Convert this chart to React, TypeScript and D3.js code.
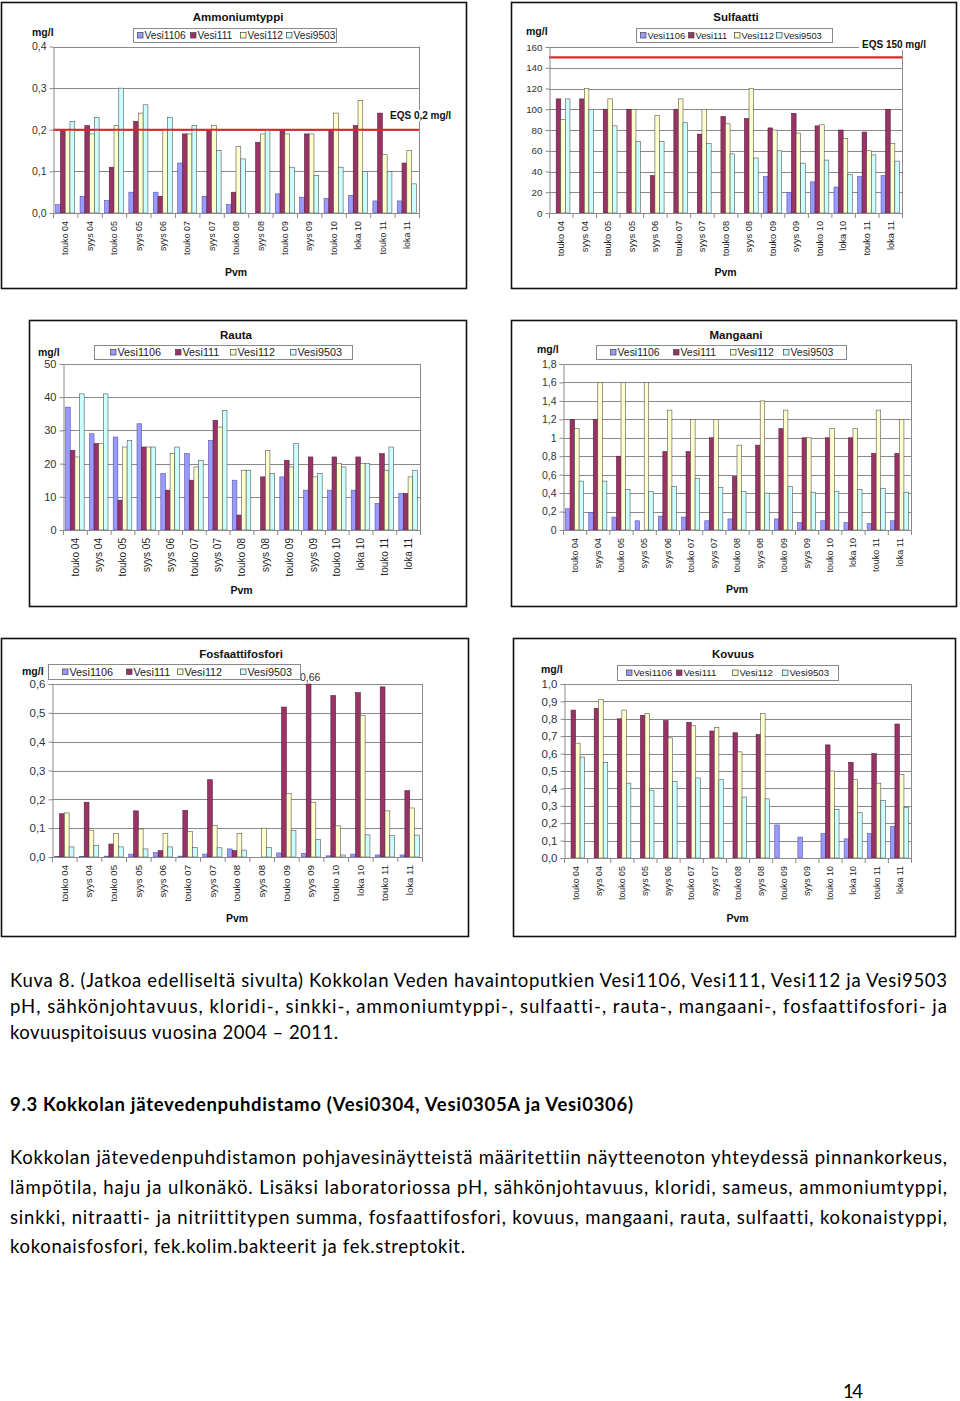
import {useEffect, useRef} from "react";
import * as d3 from "d3";

const dates = ["touko 04", "syys 04", "touko 05", "syys 05", "syys 06", "touko 07", "syys 07", "touko 08",
    "syys 08", "touko 09", "syys 09", "touko 10", "loka 10", "touko 11", "loka 11"];
const wells = ["Vesi1106", "Vesi111", "Vesi112", "Vesi9503"];
const wellColors = ["#9999ff", "#993366", "#ffffcc", "#ccffff"];

// Ammoniumtyppi, mg/l
const ammVesi1106 = [0.02, 0.04, 0.03, 0.05, 0.05, 0.12, 0.04, 0.02, 0, 0.046, 0.038, 0.035, 0.042, 0.029, 0.029];
const ammVesi111 = [0.2, 0.21, 0.11, 0.22, 0.04, 0.19, 0.2, 0.05, 0.17, 0.2, 0.19, 0.2, 0.21, 0.24, 0.12];
const ammVesi112 = [0.2, 0.19, 0.21, 0.24, 0.2, 0.19, 0.21, 0.16, 0.19, 0.19, 0.19, 0.24, 0.27, 0.14, 0.15];
const ammVesi9503 = [0.22, 0.23, 0.3, 0.26, 0.23, 0.21, 0.15, 0.13, 0.2, 0.11, 0.09, 0.11, 0.1, 0.1, 0.07];
const ammTicks = [0, 0.1, 0.2, 0.3, 0.4];
const ammTickLabels = ["0,0", "0,1", "0,2", "0,3", "0,4"];

// Sulfaatti, mg/l
const sulVesi1106 = [0, 0, 0, 0, 0, 0, 0, 0, 0, 35, 20, 30, 25, 35, 36];
const sulVesi111 = [110, 110, 100, 100, 36, 100, 76, 93, 91, 82, 96, 84, 80, 78, 100];
const sulVesi112 = [90, 120, 110, 100, 94, 110, 100, 86, 120, 80, 77, 85, 72, 60, 67];
const sulVesi9503 = [110, 100, 84, 69, 69, 87, 67, 57, 53, 60, 48, 51, 37, 56, 50];
const sulTicks = [0, 20, 40, 60, 80, 100, 120, 140, 160];
const sulTickLabels = ["0", "20", "40", "60", "80", "100", "120", "140", "160"];

// Rauta
const rautaVesi1106 = [37, 29, 28, 32, 17, 23, 27, 15, 0, 16, 12, 12, 12, 8, 11];
const rautaVesi111 = [24, 26, 9, 25, 12, 15, 33, 4.5, 16, 21, 22, 22, 22, 23, 11];
const rautaVesi112 = [22, 26, 25, 25, 23, 19, 31, 18, 24, 19, 16, 20, 20, 18, 16];
const rautaVesi9503 = [41, 41, 27, 25, 25, 21, 36, 18, 17, 26, 17, 19, 20, 25, 18];
const rautaTicks = [0, 10, 20, 30, 40, 50];
const rautaTickLabels = ["0", "10", "20", "30", "40", "50"];

// Mangaani
const mnVesi1106 = [0.23, 0.19, 0.14, 0.1, 0.15, 0.14, 0.1, 0.12, 0, 0.12, 0.08, 0.1, 0.08, 0.07, 0.1];
const mnVesi111 = [1.2, 1.2, 0.8, 0, 0.85, 0.85, 1.0, 0.58, 0.92, 1.1, 1.0, 1.0, 1.0, 0.83, 0.83];
const mnVesi112 = [1.1, 1.6, 1.6, 1.6, 1.3, 1.2, 1.2, 0.92, 1.4, 1.3, 1.0, 1.1, 1.1, 1.3, 1.2];
const mnVesi9503 = [0.53, 0.53, 0.44, 0.42, 0.47, 0.56, 0.46, 0.42, 0.4, 0.47, 0.41, 0.42, 0.44, 0.45, 0.41];
const mnTicks = [0, 0.2, 0.4, 0.6, 0.8, 1, 1.2, 1.4, 1.6, 1.8];
const mnTickLabels = ["0", "0,2", "0,4", "0,6", "0,8", "1", "1,2", "1,4", "1,6", "1,8"];

// Fosfaattifosfori
const poVesi1106 = [0.002, 0.002, 0.003, 0.01, 0.015, 0.003, 0.01, 0.028, 0, 0.014, 0.012, 0.004, 0.01, 0.007, 0.007];
const poVesi111 = [0.15, 0.19, 0.045, 0.16, 0.022, 0.162, 0.268, 0.022, 0, 0.52, 0.66, 0.56, 0.57, 0.59, 0.23];
const poVesi112 = [0.153, 0.093, 0.082, 0.097, 0.082, 0.088, 0.11, 0.082, 0.1, 0.22, 0.19, 0.108, 0.49, 0.16, 0.17];
const poVesi9503 = [0.035, 0.04, 0.035, 0.028, 0.035, 0.033, 0.032, 0.024, 0.033, 0.092, 0.061, 0.007, 0.077, 0.075, 0.076];
const poTicks = [0, 0.1, 0.2, 0.3, 0.4, 0.5, 0.6];
const poTickLabels = ["0,0", "0,1", "0,2", "0,3", "0,4", "0,5", "0,6"];

// Kovuus
const kovVesi1106 = [0, 0, 0, 0, 0, 0, 0, 0, 0, 0.19, 0.12, 0.14, 0.11, 0.14, 0.18];
const kovVesi111 = [0.85, 0.86, 0.8, 0.82, 0.79, 0.78, 0.73, 0.72, 0.71, 0, 0, 0.65, 0.55, 0.6, 0.77];
const kovVesi112 = [0.66, 0.91, 0.85, 0.83, 0.69, 0.76, 0.75, 0.61, 0.83, 0, 0, 0.5, 0.45, 0.43, 0.48];
const kovVesi9503 = [0.58, 0.55, 0.43, 0.39, 0.44, 0.46, 0.45, 0.35, 0.34, 0, 0, 0.28, 0.26, 0.33, 0.29];
const kovTicks = [0, 0.1, 0.2, 0.3, 0.4, 0.5, 0.6, 0.7, 0.8, 0.9, 1.0];
const kovTickLabels = ["0,0", "0,1", "0,2", "0,3", "0,4", "0,5", "0,6", "0,7", "0,8", "0,9", "1,0"];

const captionLines = [
    "Kuva 8. (Jatkoa edelliseltä sivulta) Kokkolan Veden havaintoputkien Vesi1106, Vesi111, Vesi112 ja Vesi9503",
    "pH, sähkönjohtavuus, kloridi-, sinkki-, ammoniumtyppi-, sulfaatti-, rauta-, mangaani-, fosfaattifosfori- ja",
    "kovuuspitoisuus vuosina 2004 – 2011.",
];
const heading = "9.3 Kokkolan jätevedenpuhdistamo (Vesi0304, Vesi0305A ja Vesi0306)";
const paragraphLines = [
    "Kokkolan jätevedenpuhdistamon pohjavesinäytteistä määritettiin näytteenoton yhteydessä pinnankorkeus,",
    "lämpötila, haju ja ulkonäkö. Lisäksi laboratoriossa pH, sähkönjohtavuus, kloridi, sameus, ammoniumtyppi,",
    "sinkki, nitraatti- ja nitriittitypen summa, fosfaattifosfori, kovuus, mangaani, rauta, sulfaatti, kokonaistyppi,",
    "kokonaisfosfori, fek.kolim.bakteerit ja fek.streptokit.",
];

const FONT = "'Liberation Sans', Arial, sans-serif";
const BODY = "Lato, 'Open Sans', sans-serif";

interface ChartDef {
    title: string;
    series: number[][];
    ticks: number[];
    tickLabels: string[];
    frame: [number, number, number, number];
    plot: [number, number, number, number]; // left, top, right, bottom
    legend: [number, number, number, number];
    legendOffsets: number[];
    legendFont: number;
    titleX: number;
    titleY: number;
    mgl: [number, number];
    pvmY: number;
    xFont: number;
    yFont: number;
    eqs?: {value: number, label: string, x: number, y: number};
    overflow?: {label: string, x: number, y: number};
}

const charts: ChartDef[] = [
    {
        title: "Ammoniumtyppi", series: [ammVesi1106, ammVesi111, ammVesi112, ammVesi9503],
        ticks: ammTicks, tickLabels: ammTickLabels,
        frame: [1.5, 2.5, 465, 286], plot: [53, 46.5, 419, 213],
        legend: [133, 28, 203, 14], legendOffsets: [4, 57, 107, 153], legendFont: 10.2,
        titleX: 238, titleY: 21, mgl: [32, 36], pvmY: 276, xFont: 8.9, yFont: 10.5,
        eqs: {value: 0.2, label: "EQS 0,2 mg/l", x: 390, y: 119},
    },
    {
        title: "Sulfaatti", series: [sulVesi1106, sulVesi111, sulVesi112, sulVesi9503],
        ticks: sulTicks, tickLabels: sulTickLabels,
        frame: [511.5, 2.5, 445, 286], plot: [549, 47, 902, 213],
        legend: [636, 28, 196, 14], legendOffsets: [4, 52, 98, 140], legendFont: 9.3,
        titleX: 736, titleY: 21, mgl: [526, 35], pvmY: 276, xFont: 9.2, yFont: 9.8,
        eqs: {value: 150, label: "EQS 150 mg/l", x: 862, y: 48},
    },
    {
        title: "Rauta", series: [rautaVesi1106, rautaVesi111, rautaVesi112, rautaVesi9503],
        ticks: rautaTicks, tickLabels: rautaTickLabels,
        frame: [29.5, 320.5, 437, 286], plot: [63, 364, 420, 530],
        legend: [94, 345, 258, 14], legendOffsets: [16, 81, 136, 196], legendFont: 10.8,
        titleX: 236, titleY: 339, mgl: [38, 356], pvmY: 594, xFont: 10, yFont: 11,
    },
    {
        title: "Mangaani", series: [mnVesi1106, mnVesi111, mnVesi112, mnVesi9503],
        ticks: mnTicks, tickLabels: mnTickLabels,
        frame: [511.5, 320.5, 445, 286], plot: [563, 364, 911, 530],
        legend: [596, 345, 250, 14], legendOffsets: [14, 77, 134, 187], legendFont: 10.4,
        titleX: 736, titleY: 339, mgl: [537, 353], pvmY: 593, xFont: 9, yFont: 10.5,
    },
    {
        title: "Fosfaattifosfori", series: [poVesi1106, poVesi111, poVesi112, poVesi9503],
        ticks: poTicks, tickLabels: poTickLabels,
        frame: [1.5, 638.5, 467, 298], plot: [52, 684, 422, 857],
        legend: [48, 664, 252, 15], legendOffsets: [14, 78, 129, 192], legendFont: 10.8,
        titleX: 241, titleY: 658, mgl: [22, 675], pvmY: 922, xFont: 9.6, yFont: 11.5,
        overflow: {label: "0,66", x: 300, y: 681},
    },
    {
        title: "Kovuus", series: [kovVesi1106, kovVesi111, kovVesi112, kovVesi9503],
        ticks: kovTicks, tickLabels: kovTickLabels,
        frame: [513.5, 638.5, 442, 298], plot: [564, 684, 911, 858],
        legend: [617, 665, 221, 15], legendOffsets: [9, 59, 115, 165], legendFont: 9.6,
        titleX: 733, titleY: 658, mgl: [541, 673], pvmY: 922, xFont: 8.9, yFont: 11.5,
    },
];

function drawChart(svg: d3.Selection<SVGSVGElement, unknown, null, undefined>, c: ChartDef) {
    const [pl, pt, pr, pb] = c.plot;
    const yMax = c.ticks[c.ticks.length - 1];
    const g = svg.append("g").attr("font-family", FONT);

    g.append("rect")
        .attr("x", c.frame[0]).attr("y", c.frame[1])
        .attr("width", c.frame[2]).attr("height", c.frame[3])
        .attr("fill", "#fff").attr("stroke", "#111").attr("stroke-width", 1.6);

    const x = d3.scaleBand<string>().domain(dates).range([pl, pr]);
    const y = d3.scaleLinear().domain([0, yMax]).range([pb, pt]);
    const step = x.bandwidth();
    const barW = step * 0.195;
    const groupOff = (step - barW * 4) / 2;

    // gridlines + right border of plot area
    g.append("g").selectAll("line").data(c.ticks.slice(1)).join("line")
        .attr("x1", pl).attr("x2", pr)
        .attr("y1", d => Math.round(y(d)) + 0.5).attr("y2", d => Math.round(y(d)) + 0.5)
        .attr("stroke", "#8a8a8a").attr("stroke-width", 1);
    g.append("line").attr("x1", pr + 0.5).attr("x2", pr + 0.5).attr("y1", pt).attr("y2", pb)
        .attr("stroke", "#8a8a8a");

    // bars
    c.series.forEach((vals, si) => {
        g.append("g").selectAll("rect").data(vals.map((v, i) => ({v, d: dates[i]})).filter(p => p.v > 0)).join("rect")
            .attr("x", p => (x(p.d) ?? 0) + groupOff + si * barW)
            .attr("y", p => y(Math.min(p.v, yMax)))
            .attr("width", barW)
            .attr("height", p => pb - y(Math.min(p.v, yMax)))
            .attr("fill", wellColors[si])
            .attr("stroke", si === 1 ? "#5a1e3c" : si === 0 ? "#5555aa" : "#555")
            .attr("stroke-width", 0.6);
    });

    // EQS line
    if (c.eqs) {
        g.append("line").attr("x1", pl).attr("x2", pr)
            .attr("y1", y(c.eqs.value)).attr("y2", y(c.eqs.value))
            .attr("stroke", "#e0262a").attr("stroke-width", 2.2);
        const t = g.append("text").attr("x", c.eqs.x).attr("y", c.eqs.y)
            .attr("font-size", 10).attr("font-weight", "bold").attr("fill", "#111")
            .text(c.eqs.label);
        const bb = (t.node() as SVGTextElement).getBBox();
        g.insert("rect", "text").attr("x", bb.x - 3).attr("y", bb.y).attr("width", bb.width + 4)
            .attr("height", bb.height).attr("fill", "#fff");
    }
    if (c.overflow) {
        g.append("text").attr("x", c.overflow.x).attr("y", c.overflow.y)
            .attr("font-size", 10.5).attr("fill", "#333").text(c.overflow.label);
    }

    // y axis
    const yAxis = g.append("g").attr("transform", `translate(${pl + 0.5},0)`)
        .call(d3.axisLeft(y).tickValues(c.ticks).tickFormat((_, i) => c.tickLabels[i])
            .tickSize(4).tickSizeOuter(0).tickPadding(3));
    yAxis.attr("font-family", FONT).attr("font-size", c.yFont);
    yAxis.select(".domain").attr("stroke", "#8a8a8a");
    yAxis.selectAll(".tick line").attr("stroke", "#8a8a8a");
    yAxis.selectAll(".tick text").attr("fill", "#333");

    // x axis: baseline, ticks between categories, rotated labels
    g.append("line").attr("x1", pl).attr("x2", pr).attr("y1", pb + 0.5).attr("y2", pb + 0.5)
        .attr("stroke", "#8a8a8a");
    g.append("g").selectAll("line").data(dates.concat([""])).join("line")
        .attr("x1", (_, i) => pl + i * step + 0.5).attr("x2", (_, i) => pl + i * step + 0.5)
        .attr("y1", pb).attr("y2", pb + 5).attr("stroke", "#8a8a8a");
    g.append("g").selectAll("text").data(dates).join("text")
        .attr("transform", d => `translate(${(x(d) ?? 0) + step / 2 + c.xFont * 0.36},${pb + 8}) rotate(-90)`)
        .attr("text-anchor", "end").attr("font-size", c.xFont).attr("fill", "#222")
        .text(d => d);

    // title, unit, axis name
    g.append("text").attr("x", c.titleX).attr("y", c.titleY).attr("text-anchor", "middle")
        .attr("font-size", 11.5).attr("font-weight", "bold").attr("fill", "#111").text(c.title);
    g.append("text").attr("x", c.mgl[0]).attr("y", c.mgl[1])
        .attr("font-size", 10.5).attr("font-weight", "bold").attr("fill", "#111").text("mg/l");
    g.append("text").attr("x", (pl + pr) / 2).attr("y", c.pvmY).attr("text-anchor", "middle")
        .attr("font-size", 10.5).attr("font-weight", "bold").attr("fill", "#111").text("Pvm");

    // legend
    const [lx, ly, lw, lh] = c.legend;
    g.append("rect").attr("x", lx + 0.5).attr("y", ly + 0.5).attr("width", lw).attr("height", lh)
        .attr("fill", "#fff").attr("stroke", "#8a8a8a");
    const items = g.append("g").selectAll("g").data(wells).join("g")
        .attr("transform", (_, i) => `translate(${lx + c.legendOffsets[i]},${ly + lh / 2 + 0.5})`);
    items.append("rect").attr("x", 0.5).attr("y", -3).attr("width", 5.5).attr("height", 5.5)
        .attr("fill", (_, i) => wellColors[i]).attr("stroke", "#444").attr("stroke-width", 0.7);
    items.append("text").attr("x", 7.5).attr("y", c.legendFont * 0.36)
        .attr("font-size", c.legendFont).attr("fill", "#222").text(d => d);
}

export default function App() {
    const ref = useRef<SVGSVGElement>(null);

    useEffect(() => {
        if (!ref.current) return;
        const svg = d3.select(ref.current);
        svg.selectAll("*").remove();
        svg.append("rect").attr("width", 960).attr("height", 1401).attr("fill", "#fff");

        charts.forEach(c => drawChart(svg, c));

        const text = svg.append("g").attr("font-family", BODY).attr("fill", "#000").attr("font-size", 18.5)
            .style("font-variant-ligatures", "none").style("font-feature-settings", "'liga' 0, 'clig' 0");
        const capY = [987, 1013, 1039];
        const capW = [937, 937, 328];
        captionLines.forEach((s, i) => {
            text.append("text").attr("x", 10).attr("y", capY[i])
                .attr("textLength", capW[i]).attr("lengthAdjust", "spacing").text(s);
        });
        text.append("text").attr("x", 10).attr("y", 1111).attr("font-weight", "bold")
            .attr("textLength", 623).attr("lengthAdjust", "spacing").text(heading);
        const parY = [1164, 1194, 1224, 1253];
        const parW = [937, 937, 937, 455];
        paragraphLines.forEach((s, i) => {
            text.append("text").attr("x", 10).attr("y", parY[i])
                .attr("textLength", parW[i]).attr("lengthAdjust", "spacing").text(s);
        });
        text.append("text").attr("x", 843).attr("y", 1398).attr("textLength", 20).text("14");
    }, []);

    return (
        <svg ref={ref} width={960} height={1401}
             style={{position: "absolute", left: 0, top: 0, display: "block"}}/>
    );
}
